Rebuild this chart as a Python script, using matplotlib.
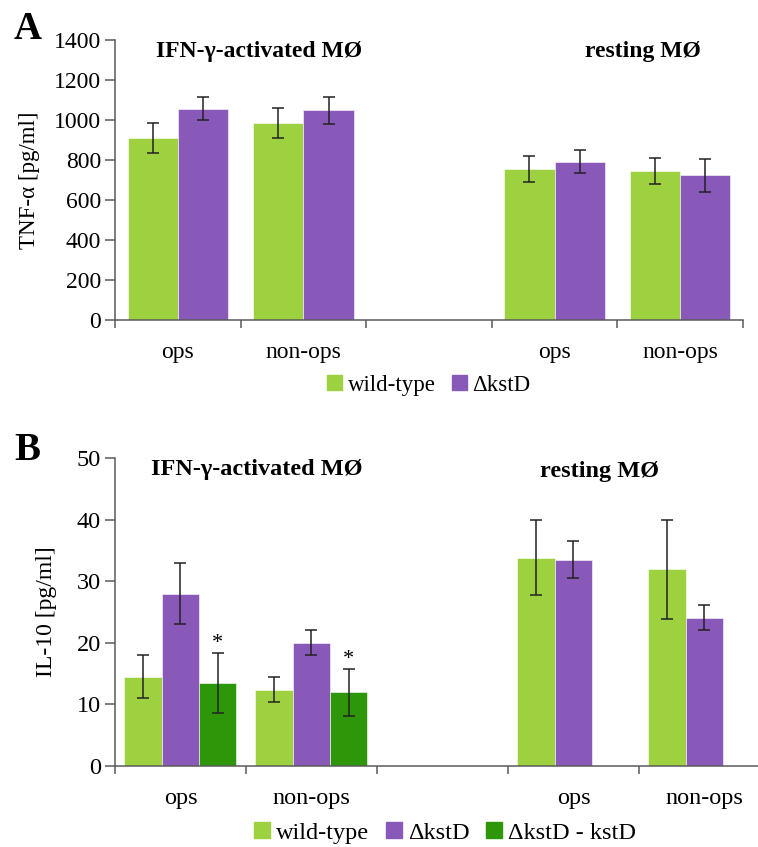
import matplotlib
matplotlib.use("Agg")
import matplotlib.pyplot as plt
import numpy as np
from matplotlib.patches import Patch

plt.rcParams["font.family"] = ["Liberation Serif", "DejaVu Serif"]

# group slots: IFN ops, IFN non-ops, (gap), resting ops, resting non-ops
group_pos = [0, 1, 3, 4]
xlabels = ["ops", "non-ops", "", "ops", "non-ops"]

# panel A: TNF-alpha
tnf_wt = [910, 985, 755, 745]
tnf_wt_err = [75, 77, 67, 65]
tnf_ko = [1057, 1048, 792, 723]
tnf_ko_err = [58, 68, 56, 82]

# panel B: IL-10
il_wt = [14.5, 12.4, 33.8, 31.9]
il_wt_err = [3.5, 2.0, 6.1, 8.0]
il_ko = [28.0, 20.0, 33.5, 24.1]
il_ko_err = [5.0, 2.0, 3.0, 2.0]
il_comp = [13.5, 12.0]   # only IFN-activated groups
il_comp_err = [4.9, 3.8]

C_WT = "#9dd13f"
C_KO = "#8859b8"
C_COMP = "#2e9709"
AX_COL = "#5a5a5a"

fig = plt.figure(figsize=(7.58, 8.47), dpi=100)
axA = fig.add_axes([0.1517, 0.6222, 0.8285, 0.3306])
axB = fig.add_axes([0.1517, 0.0956, 0.8641, 0.3637])


def style_axis(ax, ymax, ystep, fs):
    ax.set_xlim(-0.5, 4.5)
    ax.set_ylim(0, ymax)
    ax.set_yticks(np.arange(0, ymax + 1, ystep))
    for s in ["top", "right"]:
        ax.spines[s].set_visible(False)
    for s in ["left", "bottom"]:
        ax.spines[s].set_color(AX_COL)
        ax.spines[s].set_linewidth(1.1)
    ax.set_xticks(range(5))
    ax.set_xticklabels(xlabels, fontsize=fs)
    ax.set_xticks(np.arange(-0.5, 5, 1), minor=True)
    ax.tick_params(axis="x", which="major", length=0, pad=16)
    ax.tick_params(axis="x", which="minor", length=6, width=1.1, color=AX_COL)
    ax.tick_params(axis="y", length=7, width=1.1, color=AX_COL, labelsize=fs, pad=3)


ekw = dict(ecolor="#222222", elinewidth=1.1, capsize=4, capthick=1.1)

# panel A
gp = np.array(group_pos)
axA.bar(gp - 0.2, tnf_wt, 0.4, color=C_WT, edgecolor="white", linewidth=0.4,
        yerr=tnf_wt_err, error_kw=ekw)
axA.bar(gp + 0.2, tnf_ko, 0.4, color=C_KO, edgecolor="white", linewidth=0.4,
        yerr=tnf_ko_err, error_kw=ekw)
style_axis(axA, 1400, 200, 17)
axA.set_ylabel("TNF-α [pg/ml]", fontsize=16.5)
axA.yaxis.set_label_coords(-0.12, 0.5)

# panel B
w = 0.285
axB.bar(gp - w, il_wt, w, color=C_WT, edgecolor="white", linewidth=0.4,
        yerr=il_wt_err, error_kw=ekw)
axB.bar(gp, il_ko, w, color=C_KO, edgecolor="white", linewidth=0.4,
        yerr=il_ko_err, error_kw=ekw)
cp = gp[:2] + w
axB.bar(cp, il_comp, w, color=C_COMP, edgecolor="white", linewidth=0.4,
        yerr=il_comp_err, error_kw=ekw)
for x, v, e in zip(cp, il_comp, il_comp_err):
    axB.annotate("*", (x, v + e), xytext=(0, 0), textcoords="offset points",
                 ha="center", va="bottom", fontsize=16)
style_axis(axB, 50, 10, 17.5)
axB.set_ylabel("IL-10 [pg/ml]", fontsize=17)
axB.yaxis.set_label_coords(-0.089, 0.5)

# panel titles and letters
fig.text(259 / 758, 1 - 57 / 847, "IFN-γ-activated MØ", ha="center", va="baseline",
         fontsize=17, fontweight="bold")
fig.text(643 / 758, 1 - 57 / 847, "resting MØ", ha="center", va="baseline",
         fontsize=17, fontweight="bold")
fig.text(257 / 758, 1 - 475 / 847, "IFN-γ-activated MØ", ha="center", va="baseline",
         fontsize=17.5, fontweight="bold")
fig.text(599 / 758, 1 - 477 / 847, "resting MØ", ha="center", va="baseline",
         fontsize=17.5, fontweight="bold")
fig.text(14 / 758, 1 - 39 / 847, "A", fontsize=28, fontweight="bold", va="baseline")
fig.text(14 / 758, 1 - 460 / 847, "B", fontsize=28, fontweight="bold", va="baseline")

# legends
lkw = dict(loc="center", ncol=3, frameon=False, handlelength=0.65, handleheight=0.65,
           handletextpad=0.25, columnspacing=0.7, borderaxespad=0)
fig.legend([Patch(color=C_WT), Patch(color=C_KO)], ["wild-type", "ΔkstD"],
           bbox_to_anchor=(429 / 758, 1 - 385 / 847), fontsize=16.5, **lkw)
fig.legend([Patch(color=C_WT), Patch(color=C_KO), Patch(color=C_COMP)],
           ["wild-type", "ΔkstD", "ΔkstD - kstD"],
           bbox_to_anchor=(445 / 758, 1 - 833 / 847), fontsize=17.5, **lkw)

fig.savefig("out.png", dpi=100)
